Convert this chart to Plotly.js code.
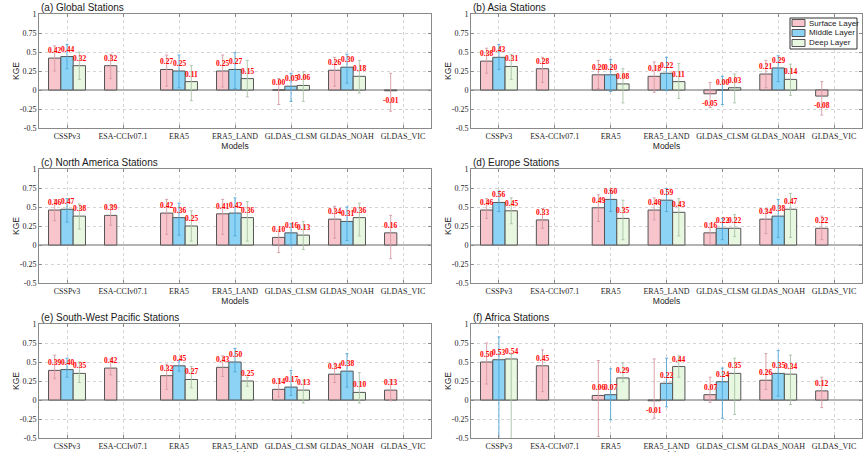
<!DOCTYPE html>
<html>
<head>
<meta charset="utf-8">
<script src="https://cdn.plot.ly/plotly-3.0.1.min.js"></script>
<style>
html,body{margin:0;padding:0;background:#fff;}
#chart{width:865px;height:452px;}
</style>
</head>
<body>
<div id="chart"></div>
<script>
// ---------- data ----------
const models = ['CSSPv3','ESA-CCIv07.1','ERA5','ERA5_LAND','GLDAS_CLSM','GLDAS_NOAH','GLDAS_VIC'];
const layers = ['Surface Layer','Middle Layer','Deep Layer'];
const panelTitles = ['(a) Global Stations','(b) Asia Stations','(c) North America Stations','(d) Europe Stations','(e) South-West Pacific Stations','(f) Africa Stations'];
const yTickVals = [-0.5,-0.25,0,0.25,0.5,0.75,1];
const yTickText = ['-0.5','-0.25','0','0.25','0.5','0.75','1'];

// rows: [surface, middle, deep]
const globalMean = [[0.42,0.32,0.27,0.25,0.00,0.26,-0.01],[0.44,null,0.25,0.27,0.05,0.30,null],[0.32,null,0.11,0.15,0.06,0.18,null]];
const globalLow  = [[0.25,0.15,0.05,0.04,-0.19,0.05,-0.28],[0.28,null,0.03,0.02,-0.15,0.09,null],[0.14,null,-0.14,-0.09,-0.15,-0.04,null]];
const globalHigh = [[0.58,0.47,0.46,0.46,0.15,0.43,0.22],[0.60,null,0.46,0.49,0.22,0.47,null],[0.50,null,0.32,0.39,0.24,0.39,null]];

const asiaMean = [[0.38,0.28,0.20,0.18,-0.05,0.21,-0.08],[0.43,null,0.20,0.22,0.00,0.29,null],[0.31,null,0.08,0.11,0.03,0.14,null]];
const asiaLow  = [[0.22,0.10,0.02,-0.03,-0.23,0.03,-0.33],[0.27,null,-0.02,-0.01,-0.19,0.11,null],[0.14,null,-0.17,-0.11,-0.17,-0.07,null]];
const asiaHigh = [[0.55,0.43,0.39,0.37,0.10,0.39,0.11],[0.60,null,0.40,0.43,0.18,0.45,null],[0.47,null,0.28,0.35,0.21,0.34,null]];

const northAmericaMean = [[0.46,0.39,0.42,0.41,0.10,0.34,0.16],[0.47,null,0.36,0.42,0.16,0.31,null],[0.38,null,0.25,0.36,0.13,0.36,null]];
const northAmericaLow  = [[0.32,0.26,0.14,0.14,-0.10,0.09,-0.18],[0.30,null,0.13,0.12,-0.01,0.06,null],[0.21,null,0.05,0.05,-0.06,0.12,null]];
const northAmericaHigh = [[0.60,0.52,0.60,0.60,0.20,0.51,0.39],[0.61,null,0.55,0.62,0.28,0.50,null],[0.54,null,0.45,0.57,0.31,0.55,null]];

const europeMean = [[0.46,0.33,0.49,0.46,0.16,0.34,0.22],[0.56,null,0.60,0.59,0.22,0.38,null],[0.45,null,0.35,0.43,0.22,0.47,null]];
const europeLow  = [[0.35,0.22,0.31,0.33,0.01,0.15,0.07],[0.44,null,0.44,0.44,0.07,0.10,null],[0.28,null,0.07,0.12,0.11,0.10,null]];
const europeHigh = [[0.61,0.48,0.66,0.62,0.28,0.47,0.38],[0.71,null,0.72,0.74,0.35,0.60,null],[0.62,null,0.59,0.61,0.40,0.68,null]];

const swPacificMean = [[0.39,0.42,0.32,0.43,0.14,0.34,0.13],[0.40,null,0.45,0.50,0.17,0.38,null],[0.35,null,0.27,0.25,0.13,0.10,null]];
const swPacificLow  = [[0.28,0.33,0.14,0.31,0.04,0.23,-0.01],[0.30,null,0.38,0.37,0.06,0.17,null],[0.23,null,0.16,0.18,-0.04,-0.04,null]];
const swPacificHigh = [[0.59,0.54,0.47,0.58,0.28,0.47,0.27],[0.55,null,0.52,0.68,0.39,0.61,null],[0.50,null,0.44,0.30,0.26,0.36,null]];

const africaMean = [[0.50,0.45,0.06,-0.01,0.07,0.26,0.12],[0.53,null,0.07,0.22,0.24,0.35,null],[0.54,null,0.29,0.44,0.35,0.34,null]];
const africaLow  = [[0.21,0.11,-0.48,-0.24,-0.03,0.14,-0.10],[-0.60,null,-0.26,-0.09,-0.24,0.05,null],[-0.60,null,0.24,0.30,-0.19,-0.06,null]];
const africaHigh = [[0.75,0.66,0.52,0.54,0.30,0.61,0.30],[0.83,null,0.41,0.55,0.42,0.65,null],[0.60,null,0.49,0.58,0.55,0.59,null]];

const panels = [
  [globalMean, globalLow, globalHigh],
  [asiaMean, asiaLow, asiaHigh],
  [northAmericaMean, northAmericaLow, northAmericaHigh],
  [europeMean, europeLow, europeHigh],
  [swPacificMean, swPacificLow, swPacificHigh],
  [africaMean, africaLow, africaHigh]
];

// ---------- style ----------
const W = 865, H = 452;
const barColors = ['#F9C5CD','#8CD3F5','#E7F7E0'];
const errColors = ['#D49AA4','#4FA6D8','#A9C2A6'];
const sans = 'Liberation Sans, Arial, sans-serif';
const serif = 'Liberation Serif, Times New Roman, serif';
const colX = [[39,431],[471,862]];
const rowY = [[14,128],[169,283],[324,438]];
const yTitleX = [16, 448];
const barOffsetPx = 12.3;
const axisTitleFont = {family: sans, size: 8.5, color: '#262626'};

const traces = [];
const annotations = [];
const shapes = [];
const layout = {
  width: W, height: H,
  margin: {l:0,r:0,t:0,b:0},
  paper_bgcolor: '#fff', plot_bgcolor: '#fff',
  barmode: 'group', bargap: 0.34, bargroupgap: 0,
  showlegend: false,
  annotations: annotations,
  shapes: shapes
};

panels.forEach((p, k) => {
  const [mean, low, high] = p;
  const n = k + 1;
  const xa = 'x' + (n === 1 ? '' : n), ya = 'y' + (n === 1 ? '' : n);
  const col = k % 2, row = Math.floor(k / 2);
  const lastRow = row === 2;
  layout['xaxis' + (n === 1 ? '' : n)] = {
    domain: [colX[col][0]/W, colX[col][1]/W],
    anchor: ya, type: 'category', range: [-0.5, 6.5],
    showline: true, mirror: 'ticks', linecolor: '#8a8a8a', linewidth: 1,
    showgrid: true, gridcolor: '#d4d4d4', griddash: 'dot', gridwidth: 1,
    ticks: 'inside', ticklen: 3, tickcolor: '#8a8a8a',
    tickangle: 0, tickfont: {family: serif, size: 8, color: '#262626'},
    title: lastRow ? {text: ''} : {text: 'Models', font: axisTitleFont, standoff: 1},
    automargin: false, fixedrange: true
  };
  layout['yaxis' + (n === 1 ? '' : n)] = {
    domain: [1 - rowY[row][1]/H, 1 - rowY[row][0]/H],
    anchor: xa, range: [-0.5, 1], tickvals: yTickVals, ticktext: yTickText,
    showline: true, mirror: 'ticks', linecolor: '#8a8a8a', linewidth: 1,
    showgrid: true, gridcolor: '#d4d4d4', griddash: 'dot', gridwidth: 1,
    zeroline: true, zerolinecolor: '#b4b4b4', zerolinewidth: 2,
    ticks: 'inside', ticklen: 3, tickcolor: '#8a8a8a',
    tickfont: {family: serif, size: 8, color: '#262626'},
    title: {text: ''},
    automargin: false, fixedrange: true
  };
  // y-axis title placed close to the tick labels as in the original
  annotations.push({
    text: 'KGE', xref: 'paper', yref: ya + ' domain', x: yTitleX[col]/W, y: 0.5,
    xanchor: 'center', yanchor: 'middle', textangle: -90, showarrow: false,
    font: axisTitleFont
  });
  if (lastRow) {
    // bottom-row axis title sits at the lower edge of the figure, as in the original
    annotations.push({
      text: 'Models', xref: xa + ' domain', yref: 'paper', x: 0.5, y: 0,
      xanchor: 'center', yanchor: 'top', yshift: 4, showarrow: false,
      font: axisTitleFont
    });
  }
  annotations.push({
    text: panelTitles[k], xref: xa + ' domain', yref: ya + ' domain', x: 0, y: 1,
    xanchor: 'left', yanchor: 'bottom', yshift: -1, showarrow: false,
    font: {family: sans, size: 10, color: '#1a1a1a'}
  });
  for (let L = 0; L < 3; L++) {
    const vals = mean[L];
    traces.push({
      type: 'bar', x: models, y: vals, xaxis: xa, yaxis: ya,
      name: layers[L],
      marker: {color: barColors[L], line: {color: '#555', width: 1}},
      error_y: {
        type: 'data', symmetric: false,
        array: vals.map((v, i) => v === null ? null : high[L][i] - v),
        arrayminus: vals.map((v, i) => v === null ? null : v - low[L][i]),
        color: errColors[L], thickness: 0.9, width: 1.5
      },
      hoverinfo: 'skip'
    });
    vals.forEach((v, i) => {
      if (v === null) return;
      const neg = v < 0;
      annotations.push({
        text: v.toFixed(2), xref: xa, yref: ya, x: models[i], y: v,
        xshift: (L - 1) * barOffsetPx,
        yanchor: neg ? 'top' : 'bottom', yshift: neg ? -3 : 1,
        showarrow: false,
        font: {family: serif, size: 7.5, color: '#ff0000', weight: 'bold'}
      });
    });
  }
});

// ---------- legend (inside panel b) ----------
const lg = {x0: 790, x1: 857, y0: 18, y1: 49, rowY: [23, 33, 43]};
shapes.push({type: 'rect', xref: 'paper', yref: 'paper',
  x0: lg.x0/W, x1: lg.x1/W, y0: 1 - lg.y1/H, y1: 1 - lg.y0/H,
  line: {color: '#333', width: 1}, fillcolor: '#fff', layer: 'above'});
layers.forEach((name, L) => {
  const cy = lg.rowY[L];
  shapes.push({type: 'rect', xref: 'paper', yref: 'paper',
    x0: 792/W, x1: 805/W, y0: 1 - (cy + 3.5)/H, y1: 1 - (cy - 3.5)/H,
    line: {color: '#555', width: 1}, fillcolor: barColors[L], layer: 'above'});
  annotations.push({text: name, xref: 'paper', yref: 'paper', x: 807/W, y: 1 - cy/H,
    xanchor: 'left', yanchor: 'middle', showarrow: false,
    font: {family: sans, size: 8, color: '#222'}});
});

Plotly.newPlot('chart', traces, layout, {displayModeBar: false, staticPlot: true});
</script>
</body>
</html>
